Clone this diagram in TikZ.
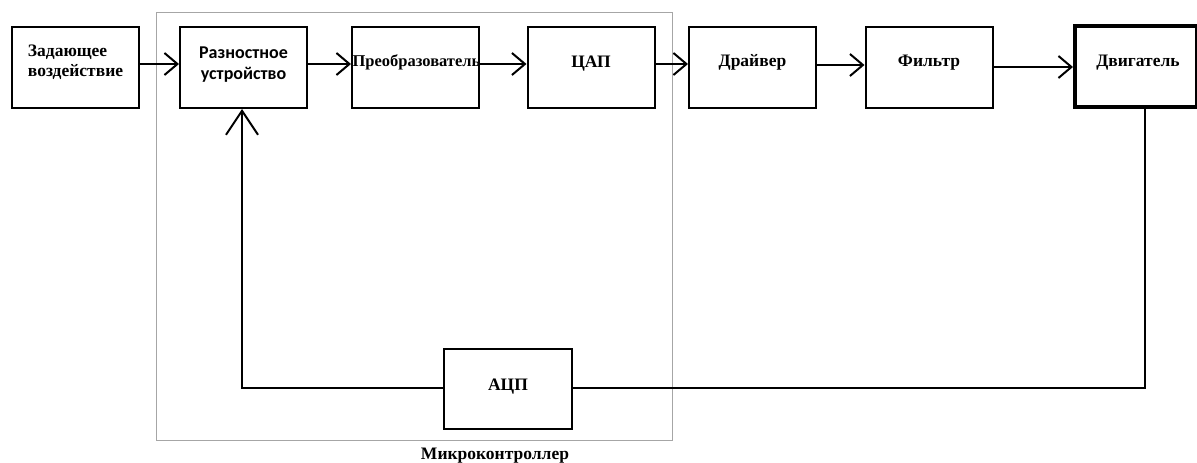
\documentclass[tikz,border=0pt]{standalone}
\usepackage{fontspec}
\setmainfont{Liberation Serif}
\newfontfamily\tnr{Liberation Serif}
\newfontfamily\calib{Carlito}
\newcommand{\tnrb}{\tnr\bfseries\fontsize{17.5}{21}\selectfont}
\usetikzlibrary{arrows.meta}
\begin{document}
\begin{tikzpicture}[x=1pt,y=-1pt,
  blk/.style={draw=black,line width=2pt,minimum width=#1,minimum height=81pt,inner sep=0pt},
  blk/.default=127pt,
  conn/.style={line width=2pt,-{Straight Barb[length=13pt,width=22pt,line width=2pt]}},
  wire/.style={line width=2pt}]
\useasboundingbox (0,0) rectangle (1197,463);
% microcontroller frame
\node[draw=black!35,line width=1pt,minimum width=516pt,minimum height=428pt,inner sep=0pt] (mc) at (414.5,226) {};
\node[anchor=center] (mclbl) at (495,456) {\tnrb Микроконтроллер};
% blocks
\node[blk,label={[yshift=5pt]center:{\tnrb\begin{tabular}{@{}l@{}}Задающее\\[-1pt]воздействие\end{tabular}}}] (zad) at (75.5,67.5) {};
\node[blk,label={[yshift=3pt]center:{\calib\bfseries\fontsize{18}{22}\selectfont\begin{tabular}{@{}c@{}}Разностное\\[-1pt]устройство\end{tabular}}}] (raz) at (243.5,67.5) {};
\node[blk,label={[yshift=5pt,xshift=1pt]center:{\tnr\bfseries\fontsize{16.5}{18}\selectfont Преобразователь}}] (pre) at (415.5,67.5) {};
\node[blk,label={[yshift=4pt]center:{\tnrb ЦАП}}] (cap) at (591,67.5) {};
\node[blk,label={[yshift=5pt]center:{\tnrb Драйвер}}] (drv) at (752.5,67.5) {};
\node[blk,label={[yshift=5pt]center:{\tnrb Фильтр}}] (fil) at (929,67.5) {};
\node[draw=black,line width=4pt,minimum width=122pt,minimum height=81pt,inner sep=0pt,label={[yshift=4pt,xshift=2pt]center:{\tnrb Двигатель}}] (dvg) at (1136,66.5) {};
\node[blk=128pt,minimum height=80pt,label={[yshift=2pt]center:{\tnrb АЦП}}] (adc) at (508,389) {};
% forward connectors
\draw[conn] (zad.east |- 0,64) -- (raz.west |- 0,64);
\draw[conn] (raz.east |- 0,64) -- (pre.west |- 0,64);
\draw[conn] (pre.east |- 0,64) -- (cap.west |- 0,64);
\draw[conn] (cap.east |- 0,64) -- (drv.west |- 0,64);
\draw[conn] (drv.east |- 0,65) -- (fil.west |- 0,65);
\draw[conn] (fil.east |- 0,67) -- (dvg.west |- 0,67);
% feedback
\coordinate (fbR) at (1145,388);
\coordinate (fbL) at (242,388);
\draw[wire] (dvg.south -| fbR) -- (fbR) -- (adc.east |- fbR);
\draw[wire,-{Straight Barb[length=24pt,width=32pt,line width=2pt]}] (adc.west |- fbL) -- (fbL) -- (raz.south -| fbL);
\end{tikzpicture}
\end{document}
